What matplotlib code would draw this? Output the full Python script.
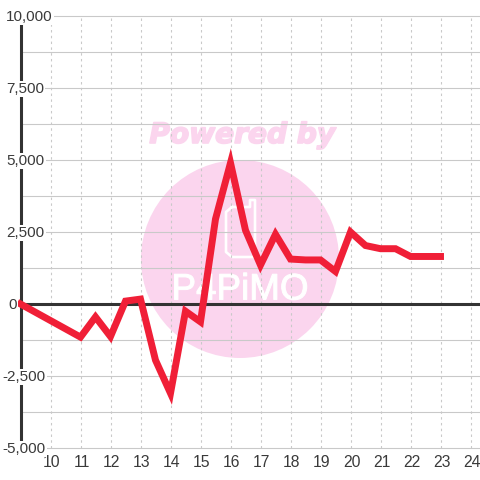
import matplotlib

matplotlib.use("Agg")
import matplotlib.pyplot as plt
import matplotlib.patheffects as pe
from matplotlib.patches import Circle

X = [9, 11, 11.5, 12, 12.5, 13, 13.5, 14, 14.5, 15, 15.5, 16, 16.5, 17, 17.5, 18, 18.5, 19, 19.5, 20,
     20.5, 21, 21.5, 22, 22.5, 23]
Y = [0, -1150, -450, -1130, 100, 170, -1950, -3100, -250, -620, 2950, 4900, 2560, 1350, 2420, 1560,
     1530, 1530, 1130, 2500, 2030, 1920, 1920, 1650, 1650, 1650]
X_TICKS = list(range(10, 25))
Y_TICKS = [10000, 7500, 5000, 2500, 0, -2500, -5000]
Y_GRID = [10000, 8750, 7500, 6250, 5000, 3750, 2500, 1250, 0, -1250, -2500, -3750, -5000]

W = H = 480
TEXT = "#3a3a3a"
GRID = "#c9c9c9"
DARK = "#333333"
PINK = "#fbd5ee"
SANS = "Liberation Sans"

fig = plt.figure(figsize=(W / 100, H / 100), dpi=100, facecolor="white")
ax = fig.add_axes([0, 0, 1, 1])
ax.set_zorder(2)
# 30 px per x unit, 72 px per 2500 on y
ax.set_xlim(10 - 50.5 / 30, 10 + (W - 50.5) / 30)
ax.set_ylim(-5000 - 32 / 72 * 2500, 10000 + 16 / 72 * 2500)
ax.set_axis_off()

# watermark, in figure pixels, sits under the axes
fig.add_artist(Circle((240 / W, 1 - 259 / H), 99 / W, color=PINK, lw=0, zorder=0.5))
fig.text(242 / W, 1 - 135 / H, "Powered by", color=PINK, fontsize=20.2, fontweight="bold", fontstyle="italic",
         ha="center", va="center", family="DejaVu Sans", zorder=0.6,
         path_effects=[pe.withStroke(linewidth=1.2, foreground=PINK)])
fig.text(240 / W, 1 - 290 / H, "P4PiMO", color="white", fontsize=26.5, family=SANS,
         ha="center", va="center", zorder=0.6,
         path_effects=[pe.withStroke(linewidth=0.7, foreground="white")])
lx = [p / W for p in (232, 226, 226, 232, 255, 255, 250, 250, 232)]
ly = [1 - p / H for p in (207, 212, 252, 257, 257, 200, 200, 207, 207)]
fig.add_artist(plt.Line2D(lx, ly, color="white", lw=1.9, solid_joinstyle="round", zorder=0.6))

x_left = 9
for v in Y_GRID:
    ax.plot([x_left, ax.get_xlim()[1]], [v, v], color=GRID, lw=0.8, zorder=1)
for v in X_TICKS:
    ax.plot([v, v], [-5000, 10000], color=GRID, lw=0.8, ls=(0, (2.2, 3)), zorder=1)

ax.plot([x_left, x_left], [-5000, 10000], color=DARK, lw=2.2, solid_capstyle="butt", zorder=2)
ax.plot([x_left, ax.get_xlim()[1]], [0, 0], color=DARK, lw=2.2, solid_capstyle="butt", zorder=2)

ax.plot(X, Y, color="#f01f37", lw=5.0, solid_joinstyle="miter", solid_capstyle="projecting", zorder=3)

for v in X_TICKS:
    ax.text(v + 1 / 30, -5000 - 14.5 / 72 * 2500, str(v), color=TEXT, fontsize=11.3, family=SANS, ha="center",
            va="center", zorder=5)
for v in Y_TICKS:
    px = 6 if v > 0 else (2 if v < 0 else 8)
    ax.text(px / W, v - 1 / 72 * 2500, f"{v:,}", transform=ax.get_yaxis_transform(), color=TEXT, fontsize=11,
            family=SANS, ha="left", va="center", zorder=5,
            bbox=dict(facecolor="white", edgecolor="none", pad=1.0))

fig.savefig("out.png", dpi=100)
